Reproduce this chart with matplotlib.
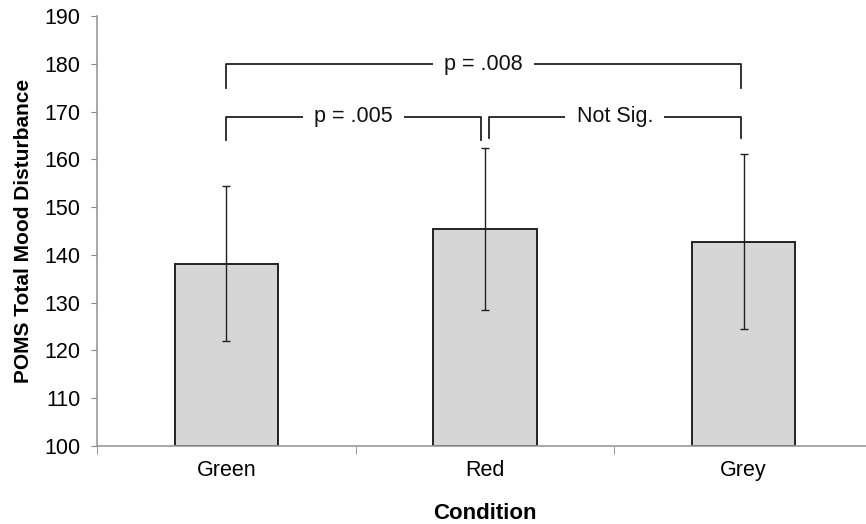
import matplotlib
matplotlib.use('Agg')
import matplotlib.pyplot as plt

# data
conditions = ['Green', 'Red', 'Grey']
means = [138.2, 145.4, 142.8]
errors = [16.2, 16.9, 18.4]

# significance brackets: (left, right, height, low end, label)
brackets = [
    (0, 1.99, 179.9, 175.0, 'p = .008'),
    (0, 0.985, 169.0, 164.0, 'p = .005'),
    (1.015, 1.99, 169.0, 164.4, 'Not Sig.'),
]

plt.rcParams['font.family'] = ['Liberation Sans', 'DejaVu Sans']

fig = plt.figure(figsize=(8.66, 5.24), dpi=100)
ax = fig.add_axes([0.112, 0.149, 0.896, 0.82])

x = range(len(conditions))
ax.bar(x, [m - 100 for m in means], bottom=100, width=0.4,
       color='#d6d6d6', edgecolor='#222222', linewidth=1.4, zorder=2)
ax.errorbar(x, means, yerr=errors, fmt='none', ecolor='#222222',
            elinewidth=1, capsize=3, capthick=1, zorder=3)

# brackets
for x0, x1, h, low, label in brackets:
    ax.plot([x0, x0, x1, x1], [low, h, h, low], color='#222222',
            linewidth=1.3, zorder=3)
    ax.text((x0 + x1) / 2, h, label, ha='center', va='center', fontsize=15.5,
            color='#111111', zorder=4,
            bbox=dict(facecolor='white', edgecolor='none', pad=8))

ax.set_xlim(-0.5, 2.5)
ax.set_ylim(100, 190)
ax.set_yticks(range(100, 191, 10))
ax.set_xticks(x)
ax.set_xticklabels(conditions, fontsize=15.5)
ax.set_xticks([-0.5, 0.5, 1.5, 2.5], minor=True)
ax.tick_params(axis='x', which='major', length=0, pad=10)
ax.tick_params(axis='x', which='minor', length=6, color='#888888')
ax.tick_params(axis='y', labelsize=15.5, length=4, color='#888888', pad=8)

for s in ['top', 'right']:
    ax.spines[s].set_visible(False)
for s in ['left', 'bottom']:
    ax.spines[s].set_color('#999999')
    ax.spines[s].set_linewidth(1.2)

ax.set_ylabel('POMS Total Mood Disturbance', fontsize=15, fontweight='bold',
              labelpad=8)
ax.set_xlabel('Condition', fontsize=16, fontweight='bold', labelpad=16)

fig.savefig('out.png', dpi=100)
